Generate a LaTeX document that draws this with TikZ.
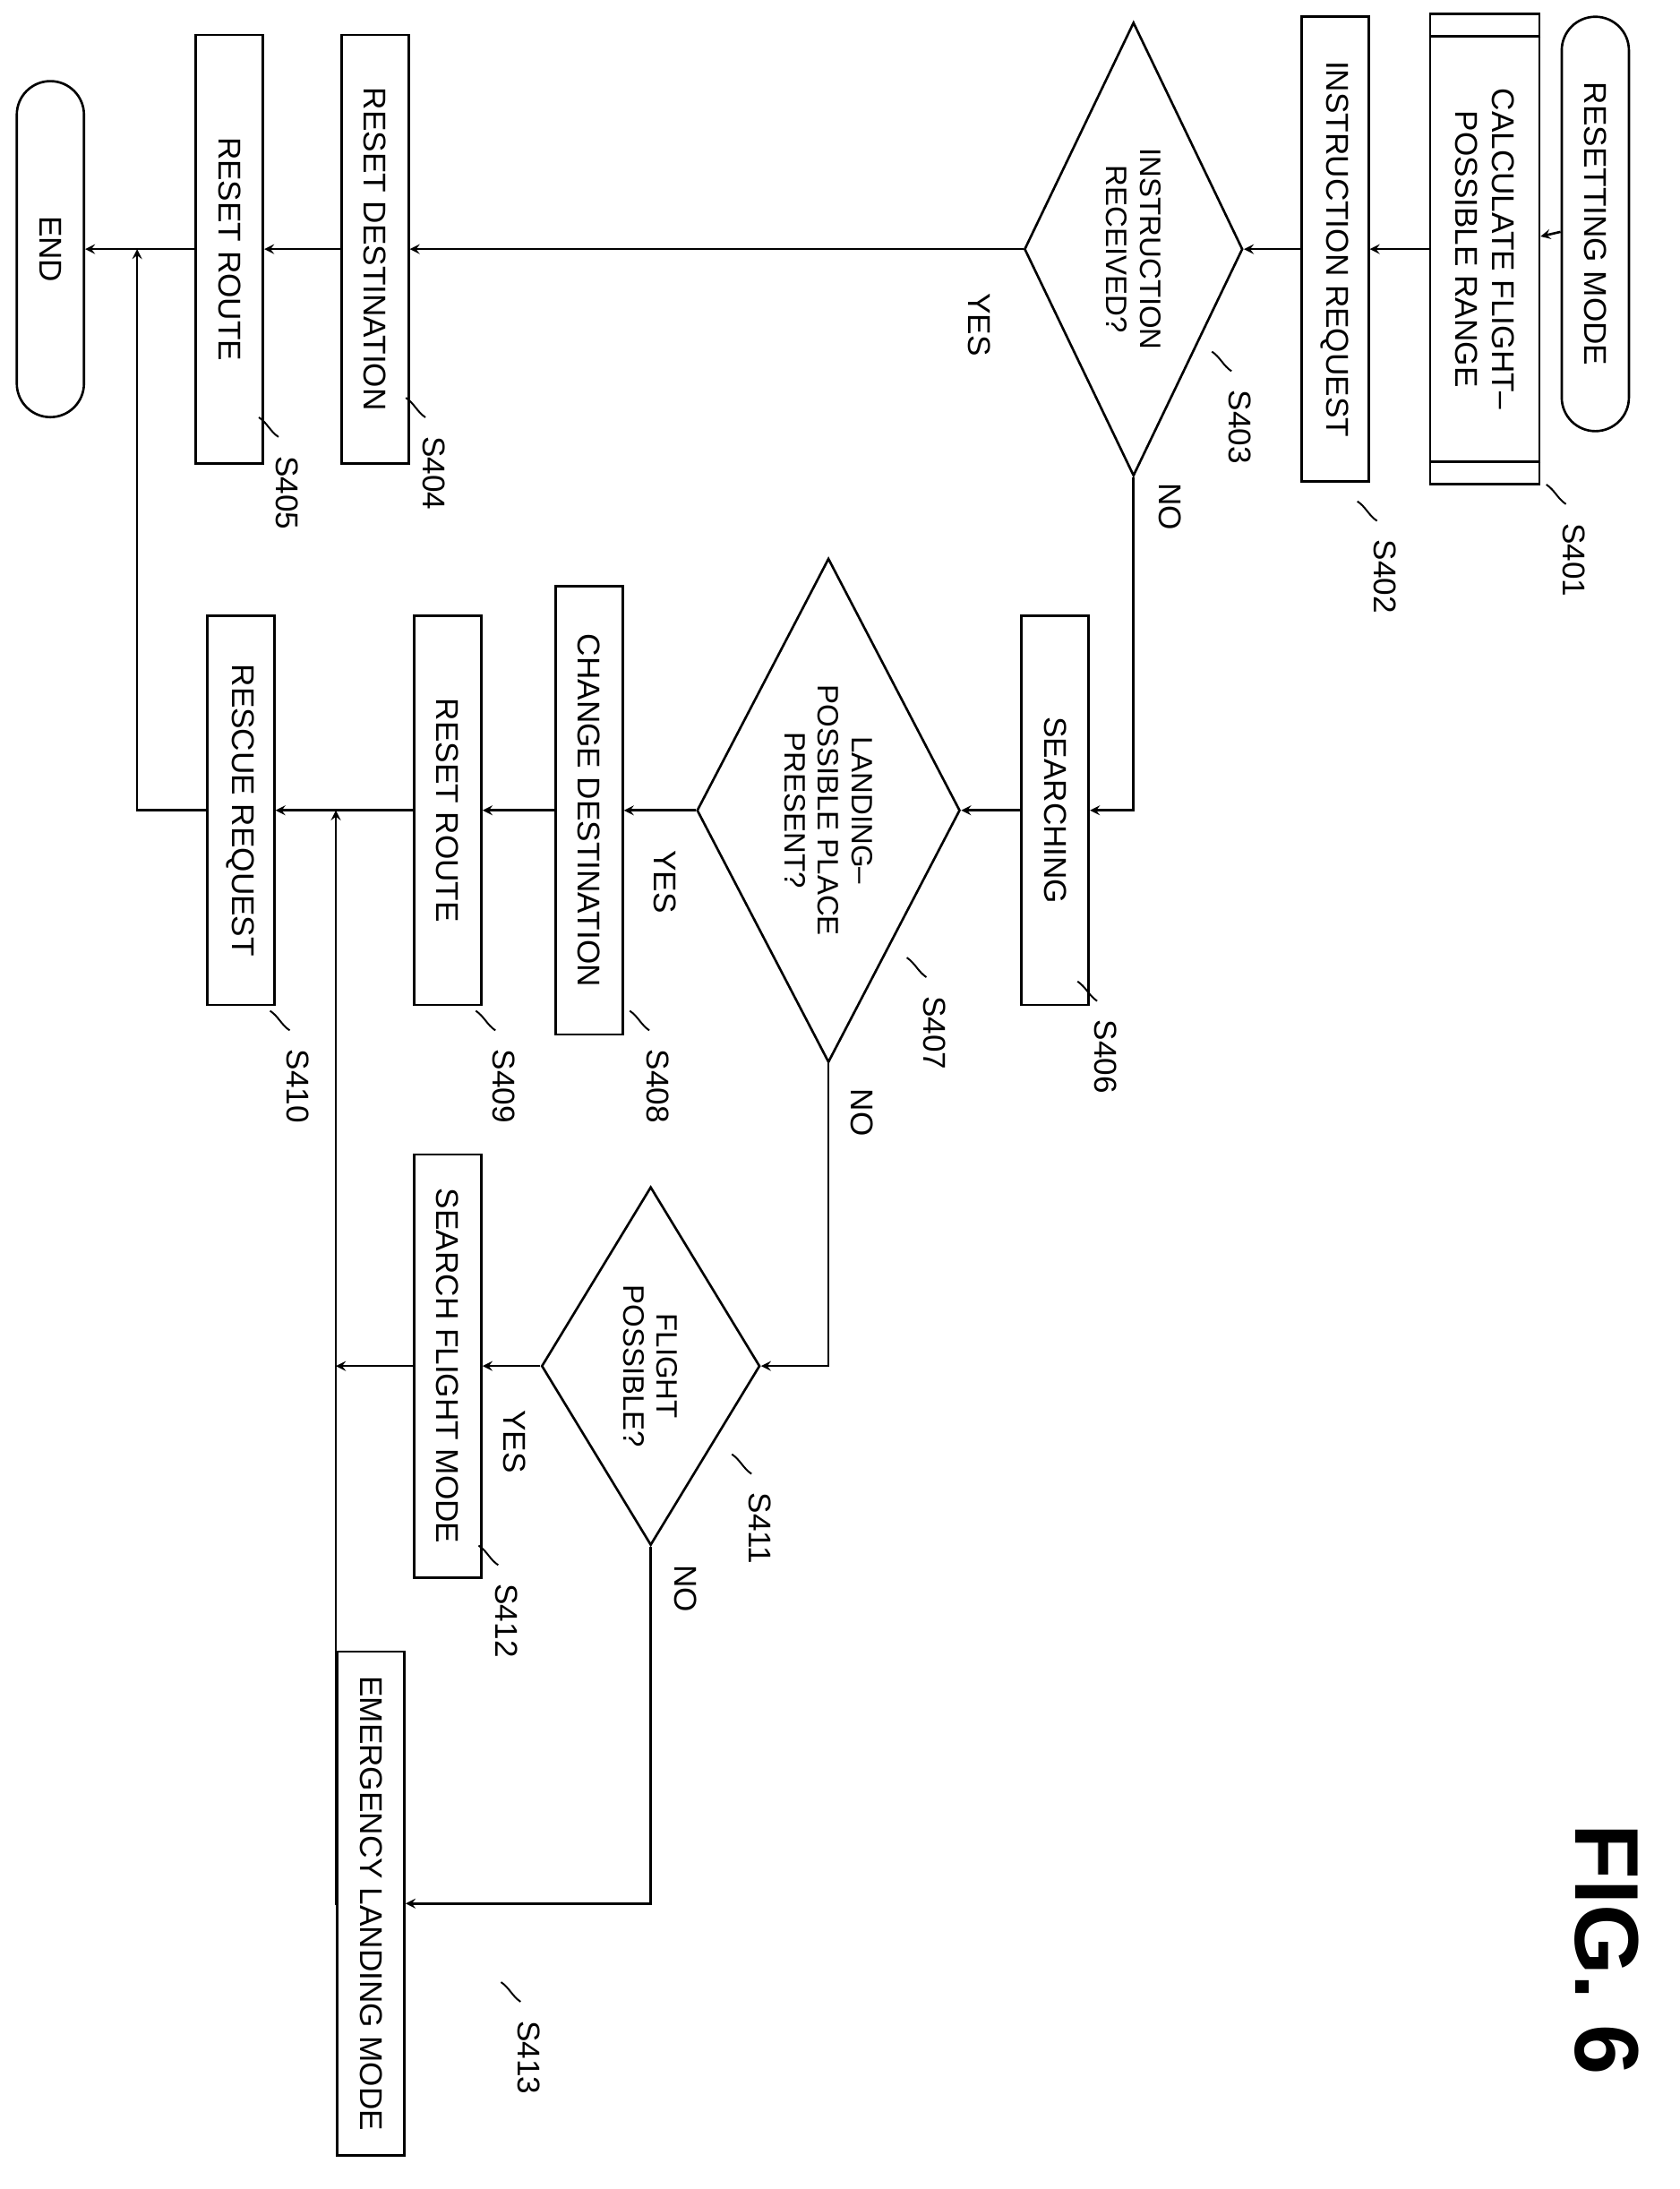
\documentclass[tikz,border=0pt]{standalone}
\usepackage{fontspec}
\setmainfont{Liberation Sans}
\usetikzlibrary{shapes.geometric,calc}

\begin{document}
\begin{tikzpicture}[x=0.025cm,y=-0.025cm, line width=1.2pt, >=stealth,
    box/.style={draw, rotate=-90, minimum height=1.2cm, inner sep=2pt, font=\fontsize{16}{19}\selectfont},
    term/.style={box, rounded corners=0.6cm},
    dec/.style={draw, diamond, rotate=-90, inner sep=0pt, align=center, font=\fontsize{15}{17}\selectfont},
    lbl/.style={rotate=-90, font=\fontsize{16}{19}\selectfont},
    stp/.style={rotate=-90, font=\fontsize{16}{19}\selectfont}]
    \useasboundingbox (0,0) rectangle (1200,1564);

    \node[term, minimum width=7.4cm] (start) at (1140,160) {RESETTING MODE};
    \node[box, minimum width=8.4cm, minimum height=1.95cm, align=center] (s401) at (1061,178) {CALCULATE FLIGHT--\\POSSIBLE RANGE};
    \draw ($(s401.north west)!0.05!(s401.north east)$) -- ($(s401.south west)!0.05!(s401.south east)$);
    \draw ($(s401.north west)!0.95!(s401.north east)$) -- ($(s401.south west)!0.95!(s401.south east)$);
    \node[box, minimum width=8.3cm] (s402) at (954,178) {INSTRUCTION REQUEST};
    \node[dec, minimum width=8.1cm, minimum height=3.9cm, shape aspect=2.1] (s403) at (810,178) {INSTRUCTION\\RECEIVED?};
    \node[box, minimum width=7.65cm] (s404) at (268,178) {RESET DESTINATION};
    \node[box, minimum width=7.65cm] (s405) at (164,178) {RESET ROUTE};
    \node[term, minimum width=6cm] (end) at (36,178) {END};

    \node[box, minimum width=6.95cm] (s406) at (754,579) {SEARCHING};
    \node[dec, minimum width=9cm, minimum height=4.7cm, shape aspect=1.9] (s407) at (592,579) {LANDING--\\POSSIBLE PLACE\\PRESENT?};
    \node[box, minimum width=8cm] (s408) at (421,579) {CHANGE DESTINATION};
    \node[box, minimum width=6.95cm] (s409) at (320,579) {RESET ROUTE};
    \node[box, minimum width=6.95cm] (s410) at (172,579) {RESCUE REQUEST};

    \node[dec, minimum width=6.4cm, minimum height=3.9cm, shape aspect=1.65] (s411) at (465,976) {FLIGHT\\POSSIBLE?};
    \node[box, minimum width=7.55cm] (s412) at (320,976) {SEARCH FLIGHT MODE};
    \node[box, minimum width=9cm] (s413) at (265,1360) {EMERGENCY LANDING MODE};

    \coordinate (j1) at (240,579);
    \coordinate (j2) at (98,178);

    \draw[->] (start) -- (s401);
    \draw[->] (s401) -- (s402);
    \draw[->] (s402) -- (s403);
    \draw[->] (s403.south) -- (s404);
    \draw[->] (s404) -- (s405);
    \draw[->] (s405) -- (end);
    \draw[->] (s403.east) |- (s406);
    \draw[->] (s406) -- (s407.north);
    \draw[->] (s407.south) -- (s408);
    \draw[->] (s408) -- (s409);
    \draw[->] (s409) -- (s410);
    \draw[->] (s407.east) |- (s411.north);
    \draw[->] (s411.south) -- (s412);
    \draw[->] (s412) -- (s412 -| j1);
    \draw[->] (s411.east) |- (s413.north);
    \draw[->] (s413.south) -| (j1);
    \draw[->] (s410.south) -| (j2);

    \node[lbl] (yes403) at (700,232) {YES};
    \node[lbl] (no403) at (836,362) {NO};
    \node[lbl] (yes407) at (475,630) {YES};
    \node[lbl] (no407) at (616,795) {NO};
    \node[lbl] (yes411) at (368,1030) {YES};
    \node[lbl] (no411) at (490,1135) {NO};

    % step numbers
    \node[stp] (n401) at (1125,400) {S401};
    \node[stp] (n402) at (990,412) {S402};
    \node[stp] (n403) at (886,305) {S403};
    \node[stp] (n404) at (310,338) {S404};
    \node[stp] (n405) at (205,352) {S405};
    \node[stp] (n406) at (790,755) {S406};
    \node[stp] (n407) at (668,738) {S407};
    \node[stp] (n408) at (470,776) {S408};
    \node[stp] (n409) at (360,776) {S409};
    \node[stp] (n410) at (213,776) {S410};
    \node[stp] (n411) at (543,1092) {S411};
    \node[stp] (n412) at (362,1158) {S412};
    \node[stp] (n413) at (378,1470) {S413};
    \foreach \s in {401,402,403,404,405,406,407,408,409,410,411,412,413}
      \draw[line width=0.9pt] (n\s.west) ++(-6,-8) .. controls ++(-6,-4) and ++(6,4) .. ++(-14,-14);

    \node[rotate=-90, font=\fontsize{46}{50}\selectfont\bfseries] (fig) at (1148,1393) {FIG. 6};
\end{tikzpicture}
\end{document}
